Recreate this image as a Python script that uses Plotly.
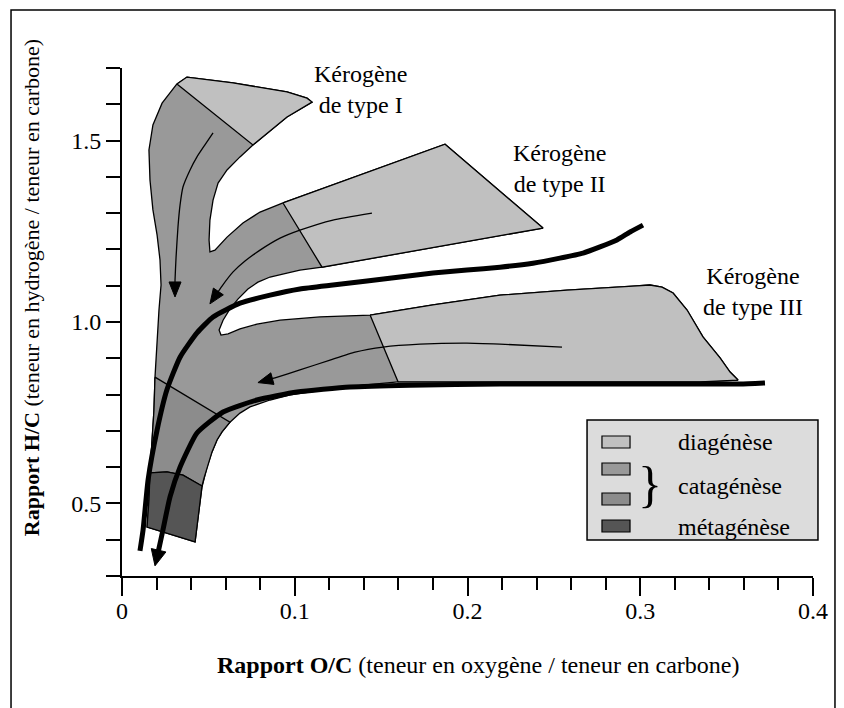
import plotly.graph_objects as go

# ---------------- axes ----------------
X_RANGE = [0, 0.4]
Y_RANGE = [0.3, 1.7]
X_TICKS = [0, 0.1, 0.2, 0.3, 0.4]
X_TICK_TEXT = ["0", "0.1", "0.2", "0.3", "0.4"]
Y_TICKS = [0.3, 0.4, 0.5, 0.6, 0.7, 0.8, 0.9, 1.0, 1.1, 1.2, 1.3, 1.4, 1.5, 1.6, 1.7]
Y_TICK_TEXT = ["", "", "0.5", "", "", "", "", "1.0", "", "", "", "", "1.5", "", ""]

# ---------------- zones (O/C, H/C) ----------------
# whole kerogen envelope (catagenese colour)
ENV_X = [0.0318, 0.0376, 0.0643, 0.0955, 0.1071, 0.1100, 0.0955, 0.0758, 0.0683, 0.0608,
         0.0556, 0.0527, 0.0509, 0.0504, 0.0509, 0.0538, 0.0608, 0.0700, 0.0799, 0.0932,
         0.1870, 0.2437, 0.1158, 0.1030, 0.0955, 0.0857, 0.0787, 0.0729, 0.0671, 0.0625,
         0.0585, 0.0562, 0.0573, 0.0614, 0.0683, 0.0781, 0.0915, 0.1146, 0.1436,
         0.1800, 0.2188, 0.2576, 0.2958, 0.3056, 0.3126, 0.3190, 0.3271, 0.3363, 0.3462,
         0.3520, 0.3566, 0.3346, 0.2767, 0.2188, 0.1598, 0.1395, 0.1204, 0.0973, 0.0857,
         0.0741, 0.0683, 0.0625, 0.0579, 0.0550, 0.0521, 0.0492, 0.0475, 0.0463, 0.0446,
         0.0423, 0.0145, 0.0156, 0.0162, 0.0174, 0.0185, 0.0191, 0.0203, 0.0214, 0.0226,
         0.0220, 0.0203, 0.0179, 0.0162, 0.0156, 0.0179, 0.0232, 0.0318]
ENV_Y = [1.656, 1.675, 1.659, 1.634, 1.617, 1.606, 1.565, 1.488, 1.455, 1.419,
         1.383, 1.336, 1.281, 1.226, 1.193, 1.198, 1.234, 1.273, 1.303, 1.328,
         1.490, 1.259, 1.151, 1.143, 1.135, 1.124, 1.110, 1.091, 1.063, 1.036,
         1.005, 0.978, 0.964, 0.967, 0.981, 0.994, 1.005, 1.014, 1.019,
         1.047, 1.074, 1.088, 1.099, 1.102, 1.096, 1.080, 1.033, 0.959, 0.901,
         0.862, 0.840, 0.835, 0.835, 0.835, 0.835, 0.826, 0.815, 0.799, 0.785,
         0.766, 0.749, 0.724, 0.697, 0.675, 0.642, 0.600, 0.570, 0.545, 0.482,
         0.394, 0.435, 0.509, 0.584, 0.675, 0.757, 0.848, 0.950, 1.033, 1.102,
         1.171, 1.240, 1.309, 1.391, 1.474, 1.543, 1.603, 1.656]

# diagenese, type I / II / III
DIAG1_X = [0.0318, 0.0376, 0.0643, 0.0955, 0.1071, 0.1100, 0.0955, 0.0758, 0.0318]
DIAG1_Y = [1.656, 1.675, 1.659, 1.634, 1.617, 1.606, 1.565, 1.488, 1.656]
DIAG2_X = [0.0932, 0.1870, 0.2437, 0.1158, 0.0932]
DIAG2_Y = [1.328, 1.490, 1.259, 1.151, 1.328]
DIAG3_X = [0.1436, 0.1800, 0.2188, 0.2576, 0.2958, 0.3056, 0.3126, 0.3190, 0.3271, 0.3363,
           0.3462, 0.3520, 0.3566, 0.3346, 0.2767, 0.2188, 0.1598, 0.1436]
DIAG3_Y = [1.019, 1.047, 1.074, 1.088, 1.099, 1.102, 1.096, 1.080, 1.033, 0.959,
           0.901, 0.862, 0.840, 0.835, 0.835, 0.835, 0.835, 1.019]

# late catagenese (darker)
CATA2_X = [0.0191, 0.0625, 0.0579, 0.0550, 0.0521, 0.0492, 0.0475, 0.0463, 0.0353,
           0.0260, 0.0162, 0.0174, 0.0185, 0.0191]
CATA2_Y = [0.848, 0.724, 0.697, 0.675, 0.642, 0.600, 0.570, 0.548, 0.578,
           0.587, 0.584, 0.675, 0.757, 0.848]

# metagenese
META_X = [0.0162, 0.0260, 0.0353, 0.0463, 0.0446, 0.0423, 0.0145, 0.0156, 0.0162]
META_Y = [0.584, 0.587, 0.578, 0.548, 0.482, 0.394, 0.435, 0.509, 0.584]

# thick evolution paths
PATH2_X = [0.3016, 0.2941, 0.2865, 0.2767, 0.2669, 0.2535, 0.2379, 0.2188, 0.1997, 0.1800,
           0.1609, 0.1418, 0.1221, 0.1030, 0.0857, 0.0683, 0.0527, 0.0434, 0.0336, 0.0260,
           0.0203, 0.0151, 0.0122, 0.0104]
PATH2_Y = [1.267, 1.248, 1.226, 1.207, 1.190, 1.176, 1.162, 1.151, 1.143, 1.135,
           1.124, 1.113, 1.102, 1.091, 1.074, 1.052, 1.014, 0.970, 0.903, 0.813,
           0.702, 0.565, 0.427, 0.369]
PATH3_X = [0.3722, 0.3577, 0.3346, 0.2767, 0.2188, 0.1667, 0.1320, 0.1013, 0.0781, 0.0585,
           0.0434, 0.0336, 0.0278, 0.0237, 0.0208, 0.0191]
PATH3_Y = [0.832, 0.829, 0.829, 0.829, 0.829, 0.826, 0.821, 0.807, 0.785, 0.752,
           0.694, 0.600, 0.518, 0.427, 0.363, 0.328]

# thin arrows
ARR1_X = [0.0527, 0.0480, 0.0434, 0.0394, 0.0353, 0.0336, 0.0324, 0.0313, 0.0307, 0.0307]
ARR1_Y = [1.521, 1.488, 1.455, 1.419, 1.372, 1.322, 1.262, 1.179, 1.116, 1.069]
ARR2_X = [0.1447, 0.1221, 0.1030, 0.0915, 0.0799, 0.0712, 0.0643, 0.0579, 0.0509]
ARR2_Y = [1.300, 1.281, 1.253, 1.231, 1.198, 1.168, 1.138, 1.099, 1.050]
ARR3_X = [0.2547, 0.2188, 0.1997, 0.1725, 0.1511, 0.1349, 0.1204, 0.1030, 0.0886, 0.0787]
ARR3_Y = [0.931, 0.939, 0.942, 0.939, 0.931, 0.917, 0.895, 0.868, 0.846, 0.833]

# labels
TYPE_LABELS = ["Kérogène<br>de type I", "Kérogène<br>de type II", "Kérogène<br>de type III"]
TYPE_LABEL_X = [0.1378, 0.2535, 0.3653]
TYPE_LABEL_Y = [1.642, 1.424, 1.083]
LEGEND_LABELS = ["diagénèse", "catagénèse", "métagénèse"]

C_DIAG = "#c0c0c0"
C_CATA1 = "#999999"
C_CATA2 = "#8c8c8c"
C_META = "#555555"
C_LEG = "#dcdcdc"
FONT = "Liberation Serif"
FS = 24

# plot geometry (px) used to orient arrowheads
W, H = 844, 708
ML, MR, MT, MB = 114, 39, 60, 140
SX = (W - ML - MR) / (X_RANGE[1] - X_RANGE[0])
SY = (H - MT - MB) / (Y_RANGE[1] - Y_RANGE[0])

fig = go.Figure()


def zone(x, y, color):
    fig.add_trace(go.Scatter(x=x, y=y, mode="lines", fill="toself", fillcolor=color,
                             line=dict(color="black", width=1.3), hoverinfo="skip",
                             showlegend=False))


zone(ENV_X, ENV_Y, C_CATA1)
zone(DIAG1_X, DIAG1_Y, C_DIAG)
zone(DIAG2_X, DIAG2_Y, C_DIAG)
zone(DIAG3_X, DIAG3_Y, C_DIAG)
zone(CATA2_X, CATA2_Y, C_CATA2)
zone(META_X, META_Y, C_META)


def path(x, y, width, head=None):
    x = list(x)
    y = list(y)
    if head:
        hl, hw = head
        dx = (x[-1] - x[-2]) * SX
        dy = (y[-1] - y[-2]) * SY
        d = (dx * dx + dy * dy) ** 0.5
        ux, uy = dx / d, dy / d
        nx, ny = -uy, ux
        bx, by = x[-1] - ux * hl / SX, y[-1] - uy * hl / SY
        tri_x = [x[-1], bx + nx * hw / 2 / SX, bx - nx * hw / 2 / SX, x[-1]]
        tri_y = [y[-1], by + ny * hw / 2 / SY, by - ny * hw / 2 / SY, y[-1]]
        x[-1] = x[-1] - ux * hl * 0.6 / SX
        y[-1] = y[-1] - uy * hl * 0.6 / SY
    fig.add_trace(go.Scatter(
        x=x, y=y, mode="lines",
        line=dict(color="black", width=width, shape="spline", smoothing=0.5),
        hoverinfo="skip", showlegend=False))
    if head:
        fig.add_trace(go.Scatter(
            x=tri_x, y=tri_y, mode="lines", fill="toself", fillcolor="black",
            line=dict(color="black", width=1), hoverinfo="skip", showlegend=False))


path(PATH2_X, PATH2_Y, 5)
path(PATH3_X, PATH3_Y, 5, (16, 15))
path(ARR1_X, ARR1_Y, 1.3, (15, 12))
path(ARR2_X, ARR2_Y, 1.3, (15, 12))
path(ARR3_X, ARR3_Y, 1.3, (15, 12))

for t, x, y in zip(TYPE_LABELS, TYPE_LABEL_X, TYPE_LABEL_Y):
    fig.add_annotation(x=x, y=y, xref="x", yref="y", text=t, showarrow=False,
                       xanchor="center", yanchor="middle",
                       font=dict(family=FONT, size=FS, color="black"), align="center")

# axis titles
fig.add_annotation(x=0.515, y=-0.175, xref="paper", yref="paper", showarrow=False,
                   xanchor="center", yanchor="middle",
                   text="<b>Rapport O/C</b> (teneur en oxygène / teneur en carbone)",
                   font=dict(family=FONT, size=FS, color="black"))
fig.add_annotation(x=-0.130, y=0.567, xref="paper", yref="paper", showarrow=False,
                   xanchor="center", yanchor="middle", textangle=-90,
                   text="<b>Rapport H/C</b> (teneur en hydrogène / teneur en carbone)",
                   font=dict(family=FONT, size=22, color="black"))

shapes = []
# outer frame
shapes.append(dict(type="rect", xref="paper", yref="paper", x0=-0.1606, x1=1.0318,
                   y0=-0.30, y1=1.1142, line=dict(color="black", width=1.5)))
# legend box
shapes.append(dict(type="rect", xref="paper", yref="paper", x0=0.673, x1=1.0072,
                   y0=0.0709, y1=0.307, fillcolor=C_LEG, line=dict(color="black", width=1.5)))
sw_rows = [(0.2756, 0.2520, C_DIAG), (0.2224, 0.1988, C_CATA1),
           (0.1634, 0.1398, C_CATA2), (0.1102, 0.0866, C_META)]
for y1, y0, c in sw_rows:
    shapes.append(dict(type="rect", xref="paper", yref="paper", x0=0.6946, x1=0.7352,
                       y0=y0, y1=y1, fillcolor=c, line=dict(color="black", width=1.2)))

for lab, y in zip(LEGEND_LABELS, [0.2638, 0.1772, 0.0965]):
    fig.add_annotation(x=0.802, y=y, xref="paper", yref="paper", text=lab, showarrow=False,
                       xanchor="left", yanchor="middle",
                       font=dict(family=FONT, size=FS, color="black"))
fig.add_annotation(x=0.764, y=0.181, xref="paper", yref="paper", text="}", showarrow=False,
                   xanchor="center", yanchor="middle",
                   font=dict(family=FONT, size=50, color="black"))

fig.update_layout(
    width=W, height=H,
    margin=dict(l=ML, r=MR, t=MT, b=MB),
    plot_bgcolor="white", paper_bgcolor="white",
    shapes=shapes,
    showlegend=False,
    xaxis=dict(range=X_RANGE, showgrid=False, zeroline=False, showline=True,
               linecolor="black", linewidth=2, ticks="outside", ticklen=18, tickwidth=2,
               tickcolor="black", tickvals=X_TICKS, ticktext=X_TICK_TEXT,
               ticklabelstandoff=-6,
               tickfont=dict(family=FONT, size=FS, color="black"),
               minor=dict(ticks="outside", ticklen=12, tickwidth=2, tickcolor="black",
                          dtick=0.02, showgrid=False)),
    yaxis=dict(range=Y_RANGE, showgrid=False, zeroline=False, showline=True,
               linecolor="black", linewidth=2, ticks="outside", ticklen=14, tickwidth=2,
               tickcolor="black", tickvals=Y_TICKS, ticktext=Y_TICK_TEXT,
               tickfont=dict(family=FONT, size=FS, color="black")),
)

fig.write_html("out.html")
